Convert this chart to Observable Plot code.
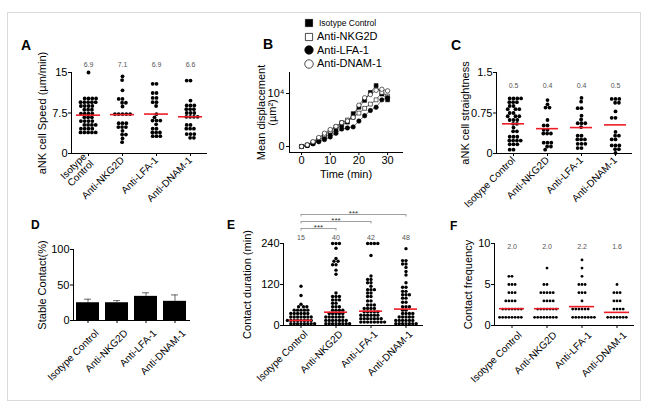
<!DOCTYPE html>
<html><head><meta charset="utf-8">
<script src="https://cdn.jsdelivr.net/npm/d3@7"></script>
<script src="https://cdn.jsdelivr.net/npm/@observablehq/plot@0.6"></script>
<style>
body{margin:0;background:#fff;font-family:"Liberation Sans",Arial,Helvetica,sans-serif;}
#fig{position:relative;width:650px;height:406px;overflow:hidden;background:#fff;}
.frame{position:absolute;left:7px;top:12px;width:634px;height:389px;box-sizing:border-box;border:1px solid #dadada;}
.letter{position:absolute;font-weight:bold;line-height:1;color:#000;}
.leg{position:absolute;line-height:1;white-space:nowrap;color:#000;}
</style></head><body><div id="fig"><div class="frame"></div></div>
<script>
const FONT = '"Liberation Sans", Arial, Helvetica, sans-serif';
const groups = ["Isotype Control", "Anti-NKG2D", "Anti-LFA-1", "Anti-DNAM-1"];

// Panel A: aNK cell speed (µm/min)
const speedIsotype = [15.0, 10.2,10.2,10.2,10.2, 9.5,9.5,9.5,9.5,9.5, 8.8,8.8,8.8,8.8, 8.1,8.1,8.1, 7.4,7.4,7.4,7.4, 6.7,6.7,6.7, 6.0,6.0,6.0,6.0, 5.3,5.3,5.3,5.3, 4.6,4.6,4.6,4.6, 3.9,3.9,3.9,3.9,3.9];
const speedNKG2D = [14.3, 13.6, 11.7, 10.1,10.1, 9.4,9.4, 8.7, 7.3,7.3,7.3,7.3,7.3, 5.6,5.6,5.6, 4.9,4.9,4.9, 4.2, 3.5,3.5, 2.8, 2.1];
const speedLFA1 = [12.9,12.9, 11.2,11.2, 10.3,10.3, 9.5,9.5, 8.8, 7.3, 6.7, 6.1,6.1,6.1, 5.4, 4.6,4.6, 3.9,3.9,3.9, 3.2,3.2,3.2];
const speedDNAM1 = [13.5,13.5, 9.8, 8.9,8.9,8.9, 8.2,8.2,8.2, 7.5,7.5,7.5, 6.8,6.8,6.8,6.8, 5.3,5.3, 4.6,4.6,4.6, 3.6,3.6,3.6, 2.9,2.9];
const speedMeanLine = [7.1, 7.2, 7.3, 6.8];
const speedMeanText = ["6.9", "7.1", "6.9", "6.6"];
const speedTicks = [0, 7.5, 15];

// Panel B: mean displacement (µm²) over time (min)
const timeMin = [0, 2, 4, 6, 8, 10, 12, 14, 16, 18, 20, 22, 24, 26, 28, 30];
const dispIsotype = [0, 200, 600, 1200, 1800, 2400, 3200, 4000, 4600, 6200, 7400, 8700, 10200, 11500, 9900, 8800];
const dispNKG2D = [0, 300, 800, 1500, 2200, 2900, 3700, 4500, 5000, 5500, 6300, 7200, 8000, 8800, 10200, 9500];
const dispLFA1 = [0, 200, 500, 900, 1300, 1800, 2500, 3300, 3500, 3700, 4800, 5800, 6800, 7400, 8800, 9200];
const dispDNAM1 = [0, 300, 900, 1700, 2500, 3200, 3800, 4500, 4800, 5500, 7800, 9200, 9800, 10600, 10800, 10500];
const dispSymbols = ["square", "square", "circle", "circle"];
const dispFills = ["#000", "#fff", "#000", "#fff"];
const timeTicks = [0, 10, 20, 30];
const dispTicks = [0, 10000];

// Panel C: aNK cell straightness
const straightIsotype = [1.02,1.02,1.02,1.02, 0.95,0.95,0.95, 0.88,0.88, 0.82,0.82,0.82, 0.75,0.75, 0.69,0.69,0.69, 0.62,0.62,0.62, 0.55,0.55, 0.48, 0.41,0.41, 0.31,0.31,0.31, 0.24,0.24,0.24,0.24, 0.17,0.17,0.17, 0.07,0.07];
const straightNKG2D = [0.99, 0.91, 0.85,0.85, 0.62, 0.52,0.52, 0.44,0.44, 0.37,0.37,0.37, 0.2,0.2,0.2, 0.13,0.13, 0.07];
const straightLFA1 = [1.03, 0.96, 0.84,0.84, 0.7, 0.63, 0.56,0.56,0.56, 0.49, 0.33,0.33, 0.26,0.26,0.26, 0.18,0.18,0.18, 0.1,0.1];
const straightDNAM1 = [1.01,1.01,1.01, 0.94,0.94, 0.78, 0.66,0.66, 0.4, 0.33,0.33, 0.26,0.26, 0.15,0.15,0.15, 0.08,0.08, 0.01];
const straightMeanLine = [0.55, 0.46, 0.48, 0.53];
const straightMeanText = ["0.5", "0.4", "0.4", "0.5"];
const straightTicks = [0, 0.75, 1.5];

// Panel D: stable contact (%)
const stableContact = [25, 25, 34, 27];
const stableError = [5, 3, 5, 9];
const stableTicks = [0, 50, 100];

// Panel E: contact duration (min)
const durIsotype = [115, 88, 62, 55,55,55, 45,45,45,45,45, 35,35,35,35,35,35, 25,25,25,25,25,25,25, 15,15,15,15,15,15,15,15, 5,5,5,5,5,5,5,5];
const durNKG2D = [240,240,240, 226, 196, 188,188, 178,178, 162, 150, 95, 85,85,85, 75,75,75, 65,65, 55,55,55, 45,45,45,45, 35,35,35,35,35, 25,25,25,25,25,25, 15,15,15,15,15,15,15, 5,5,5,5,5,5,5,5];
const durLFA1 = [240,240,240,240, 205, 145, 135,135, 125,125, 115, 105,105,105, 95,95, 85,85, 72,72, 60,60,60, 50,50,50,50, 40,40,40,40,40, 30,30,30,30,30,30, 20,20,20,20,20,20,20, 10,10,10,10,10,10,10,10];
const durDNAM1 = [225, 190,190, 180,180, 170, 158, 148, 125, 112,112, 100,100, 90,90,90, 80,80, 68,68, 55,55,55, 45,45, 35,35,35,35, 25,25,25,25,25, 15,15,15,15,15,15, 5,5,5,5,5,5,5];
const durMeanLine = [15, 39, 42, 48];
const durMeanText = ["15", "40", "42", "48"];
const durTicks = [0, 120, 240];
const comparisons = [["Isotype Control", "Anti-NKG2D", "***"], ["Isotype Control", "Anti-LFA-1", "***"], ["Isotype Control", "Anti-DNAM-1", "***"]];

// Panel F: contact frequency
const freqIsotype = [6,6, 5,5,5, 4,4,4, 3,3,3,3, 2,2,2,2,2,2,2, 1,1,1,1,1,1,1,1];
const freqNKG2D = [7, 5,5, 4,4,4,4,4, 3,3,3,3, 2,2,2,2,2,2,2, 1,1,1,1,1,1,1,1];
const freqLFA1 = [8, 7, 6, 5,5,5, 4,4,4, 3, 2,2,2,2,2,2, 1,1,1,1,1,1,1,1];
const freqDNAM1 = [5, 4,4,4, 3,3,3, 2,2,2,2, 1,1,1,1,1,1,1];
const freqMeanLine = [2.05, 2.05, 2.3, 1.6];
const freqMeanText = ["2.0", "2.0", "2.2", "1.6"];
const freqTicks = [0, 5, 10];

const fig = document.getElementById("fig");
function place(node, left, top) {
  node.style.position = "absolute";
  node.style.left = left + "px";
  node.style.top = top + "px";
  fig.appendChild(node);
}
const baseStyle = {fontFamily: FONT, fontSize: "11px", color: "#000", background: "transparent", overflow: "visible"};
const fmt = d => String(d);

function categoryAxis(axisFn, o) {
  return [
    axisFn({anchor: "bottom", tickSize: 3, tickFormat: () => "", label: null}),
    axisFn({anchor: "bottom", tickRotate: -45, tickSize: 0, tickPadding: 5, fontSize: 10, label: null,
      dx: o.lx || 0, dy: o.ly || 0, tickFormat: o.fxFormat || (d => d)})
  ];
}

function scatter(o) {
  const pts = groups.flatMap((g, i) => o.values[i].map(v => ({g, v})));
  const means = groups.map((g, i) => ({g, m: o.meanLine[i], t: o.meanText[i]}));
  return Plot.plot({
    ...o.size,
    style: baseStyle,
    fx: {domain: groups, padding: 0, axis: null, label: null},
    y: {domain: o.yDomain, axis: null},
    marks: [
      Plot.ruleY([o.yDomain[0]], {stroke: "#000", strokeWidth: 1}),
      Plot.frame({anchor: "left", facetAnchor: "left", stroke: "#000"}),
      Plot.axisY({anchor: "left", ticks: o.yTicks, tickFormat: fmt, tickSize: 3, tickPadding: 1, fontSize: 11,
        label: o.yLabel, labelAnchor: "center", labelOffset: o.labelOffset, labelArrow: "none"}),
      ...categoryAxis(Plot.axisFx, o),
      Plot.dot(pts, Plot.dodgeX({anchor: "middle", padding: o.pad}, {fx: "g", y: "v", r: o.r, fill: "#000", stroke: null})),
      Plot.tickY(means, {fx: "g", y: "m", stroke: "#ee1c25", strokeWidth: 1.6, insetLeft: o.inset, insetRight: o.inset}),
      Plot.text(means, {fx: "g", text: "t", frameAnchor: "top", dy: o.meanDy, fontSize: 7, fill: "#555"})
    ]
  });
}

// A
place(scatter({
  values: [speedIsotype, speedNKG2D, speedLFA1, speedDNAM1], meanLine: speedMeanLine, meanText: speedMeanText,
  yDomain: [0, 15], yTicks: speedTicks, yLabel: "aNK cell Speed (µm/min)", labelOffset: 33,
  r: 1.9, pad: 0, inset: 5, meanDy: -10,
  fxFormat: d => d === "Isotype Control" ? "Isotype\nControl" : d,
  size: {width: 215, height: 170, marginLeft: 70, marginRight: 8, marginTop: 32, marginBottom: 57}
}), 0, 40);

// C
place(scatter({
  values: [straightIsotype, straightNKG2D, straightLFA1, straightDNAM1], meanLine: straightMeanLine, meanText: straightMeanText,
  yDomain: [0, 1.5], yTicks: straightTicks, yLabel: "aNK cell straightness", labelOffset: 35,
  r: 1.9, pad: 0, inset: 6, meanDy: 11,
  size: {width: 222, height: 170, marginLeft: 74, marginRight: 9, marginTop: 32, marginBottom: 57}
}), 420, 40);

// E
place(scatter({
  values: [durIsotype, durNKG2D, durLFA1, durDNAM1], meanLine: durMeanLine, meanText: durMeanText,
  yDomain: [0, 240], yTicks: durTicks, yLabel: "Contact duration (min)", labelOffset: 40,
  r: 1.7, pad: 0, inset: 6, meanDy: -8, lx: 5, ly: 2,
  size: {width: 210, height: 200, marginLeft: 68, marginRight: 2, marginTop: 48, marginBottom: 70}
}), 215, 195);

// E significance brackets
{
  const comp = comparisons.map((c, i) => ({a: groups.indexOf(c[0]), b: groups.indexOf(c[1]), label: c[2], level: i}));
  place(Plot.plot({
    width: 210, height: 40, marginLeft: 68, marginRight: 2, marginTop: 19, marginBottom: 7,
    style: baseStyle,
    x: {domain: [-0.5, groups.length - 0.5], axis: null},
    y: {domain: [0, comparisons.length - 1], axis: null},
    marks: [
      Plot.link(comp, {x1: "a", x2: "b", y1: "level", y2: "level", stroke: "#888", strokeWidth: 0.8}),
      Plot.ruleX(comp, {x: "a", y1: "level", y2: "level", insetTop: 2.5, stroke: "#888", strokeWidth: 0.8}),
      Plot.ruleX(comp, {x: "b", y1: "level", y2: "level", insetTop: 2.5, stroke: "#888", strokeWidth: 0.8}),
      Plot.text(comp, {x: d => (d.a + d.b) / 2, y: "level", text: "label", lineAnchor: "bottom", dy: 1, fontSize: 8, fill: "#333"})
    ]
  }), 215, 195);
}

// F
place(scatter({
  values: [freqIsotype, freqNKG2D, freqLFA1, freqDNAM1], meanLine: freqMeanLine, meanText: freqMeanText,
  yDomain: [0, 10], yTicks: freqTicks, yLabel: "Contact frequency", labelOffset: 30,
  r: 1.4, pad: 0.3, inset: 5, meanDy: 1, lx: 8, ly: 3,
  size: {width: 215, height: 200, marginLeft: 68, marginRight: 5, marginTop: 48, marginBottom: 70}
}), 425, 195);

// D
{
  const bars = groups.map((g, i) => ({g, v: stableContact[i], e: stableError[i]}));
  place(Plot.plot({
    width: 200, height: 170, marginLeft: 73, marginRight: 10, marginTop: 24, marginBottom: 75,
    style: baseStyle,
    x: {domain: groups, paddingInner: 0.2, paddingOuter: 0.1, axis: null},
    y: {domain: [0, 100], axis: null},
    marks: [
      Plot.barY(bars, {x: "g", y: "v", fill: "#000"}),
      Plot.ruleX(bars, {x: "g", y1: "v", y2: d => d.v + d.e, stroke: "#444", strokeWidth: 0.8}),
      Plot.tickY(bars, {x: "g", y: d => d.v + d.e, stroke: "#444", strokeWidth: 0.8, insetLeft: 8, insetRight: 8}),
      Plot.ruleY([0], {stroke: "#000"}),
      Plot.frame({anchor: "left", stroke: "#000"}),
      Plot.axisY({anchor: "left", ticks: stableTicks, tickFormat: fmt, tickSize: 3, tickPadding: 1, fontSize: 11,
        label: "Stable Contact(%)", labelAnchor: "center", labelOffset: 35, labelArrow: "none"}),
      ...categoryAxis(Plot.axisX, {lx: 9, ly: 6})
    ]
  }), 0, 225);
}

// B
{
  const series = [dispIsotype, dispNKG2D, dispLFA1, dispDNAM1];
  const pts = groups.flatMap((g, k) => timeMin.map((t, i) => ({s: g, t, v: series[k][i]})));
  place(Plot.plot({
    width: 190, height: 125, marginLeft: 69, marginRight: 8, marginTop: 12, marginBottom: 33,
    style: baseStyle,
    x: {domain: [-4.2, 35.2], axis: null},
    y: {domain: [-1132, 13962], axis: null},
    symbol: {domain: groups, range: dispSymbols},
    color: {domain: groups, range: dispFills},
    marks: [
      Plot.frame({anchor: "left", stroke: "#000"}),
      Plot.frame({anchor: "bottom", stroke: "#000"}),
      Plot.axisY({anchor: "left", ticks: dispTicks, tickFormat: d => d === 0 ? "0" : "10\u2074", tickSize: 3, tickPadding: 2, fontSize: 11,
        label: "Mean displacement\n(µm²)", labelAnchor: "center", labelOffset: 32, labelArrow: "none"}),
      Plot.axisX({anchor: "bottom", ticks: timeTicks, tickFormat: fmt, tickSize: 3, tickPadding: 1, fontSize: 11,
        label: "Time (min)", labelAnchor: "center", labelOffset: 25, labelArrow: "none"}),
      Plot.line(pts, {x: "t", y: "v", z: "s", stroke: "#333", strokeWidth: 0.7}),
      Plot.dot(pts, {x: "t", y: "v", symbol: "s", fill: "s", stroke: "#000", strokeWidth: 0.6, r: 2.2})
    ]
  }), 220, 60);

  // legend
  const legFont = [8.5, 11, 11, 11];
  groups.forEach((g, i) => {
    const row = document.createElement("div");
    row.className = "leg";
    const sym = d3.create("svg").attr("width", 10).attr("height", 10).style("position", "absolute").style("left", "0px").style("top", "0px");
    const type = dispSymbols[i] === "square" ? d3.symbolSquare : d3.symbolCircle;
    sym.append("path").attr("transform", "translate(5,5)").attr("d", d3.symbol(type, dispSymbols[i] === "square" ? 52 : 56)())
      .attr("fill", dispFills[i]).attr("stroke", "#000").attr("stroke-width", 0.7);
    row.appendChild(sym.node());
    const t = document.createElement("span");
    t.textContent = g;
    t.style.position = "absolute"; t.style.left = (i === 0 ? 15 : 13) + "px"; t.style.top = (i === 0 ? 1 : -0.5) + "px";
    t.style.fontSize = legFont[i] + "px";
    row.appendChild(t);
    place(row, 304, 18 + i * 13.5);
  });
}

// panel letters
[["A", 21, 38, 14], ["B", 263, 37, 14], ["C", 451, 38, 14], ["D", 31, 218.5, 12], ["E", 227, 218.5, 12], ["F", 450, 219.5, 12]]
  .forEach(([t, x, y, s]) => {
    const d = document.createElement("div");
    d.className = "letter"; d.textContent = t; d.style.fontSize = s + "px";
    place(d, x, y);
  });
</script>
</body></html>
